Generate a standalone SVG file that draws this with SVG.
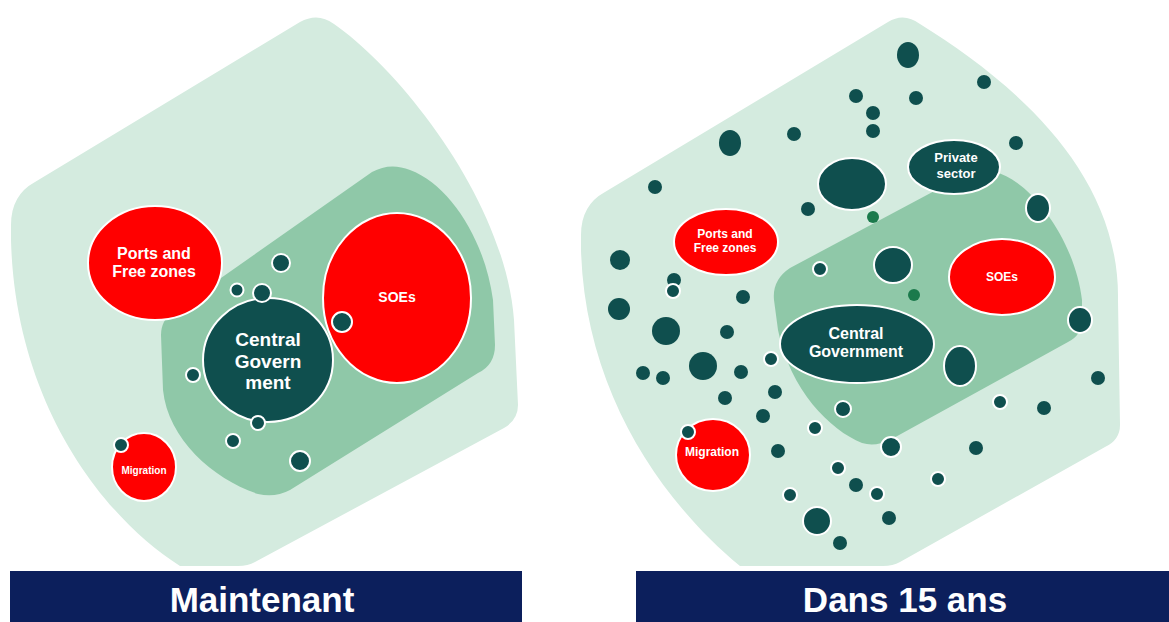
<svg xmlns="http://www.w3.org/2000/svg" width="1169" height="622" viewBox="0 0 1169 622">
<style>
.outer{fill:#d4ebdf}
.inner{fill:#8fc8a8}
.red{fill:#ff0000;stroke:#ffffff;stroke-width:2}
.teal{fill:#0f4f4e}
.ws{stroke:#ffffff;stroke-width:2}
.gd{fill:#1b7a4c}
.lbl{font-family:"Liberation Sans",Arial,sans-serif;font-weight:bold;fill:#ffffff;text-anchor:middle}
.ban{fill:#0c1f5c}
.bt{font-family:"Liberation Sans",Arial,sans-serif;font-weight:bold;fill:#ffffff;text-anchor:middle;font-size:35px}
</style>
<rect width="1169" height="622" fill="#ffffff"/>

<!-- LEFT PANEL -->
<g id="left-panel">
  <path id="left-outer" class="outer" d="M 300,22 Q 318,12 334,24 C 400,70 505,200 514,320 L 518,405 Q 518,420 504,428 L 255,562 Q 248,566 238,566 L 180,566 C 100,515 15,400 11,240 L 11,225 Q 11,195 35,182 Z"/>
  <path id="left-inner" class="inner" d="M 372,172 Q 390,162 410,170 C 450,185 485,240 493,300 L 495,345 Q 495,365 478,373 L 290,490 Q 275,498 258,494 C 215,480 168,440 163,390 L 161,335 Q 161,320 174,311 Z"/>
  <g id="l-ports"><ellipse class="red" cx="155" cy="263" rx="67" ry="57"/>
    <text class="lbl" x="154" y="259" font-size="16">Ports and</text>
    <text class="lbl" x="154" y="277" font-size="16">Free zones</text></g>
  <g id="l-soes"><ellipse class="red" cx="397" cy="298" rx="74" ry="85"/>
    <text class="lbl" x="397" y="302" font-size="14">SOEs</text></g>
  <g id="l-central"><ellipse class="teal ws" cx="268" cy="360" rx="65" ry="62" stroke-width="2.5"/>
    <text class="lbl" x="268" y="346" font-size="19">Central</text>
    <text class="lbl" x="268" y="368" font-size="19">Govern</text>
    <text class="lbl" x="268" y="389" font-size="19">ment</text></g>
  <g id="l-migration"><ellipse class="red" cx="144" cy="467" rx="32" ry="34"/>
    <text class="lbl" x="144" y="474" font-size="10">Migration</text></g>
  <g id="l-dots" class="teal ws">
    <circle cx="281" cy="263" r="9"/>
    <circle cx="237" cy="290" r="6.5"/>
    <circle cx="262" cy="293" r="9"/>
    <circle cx="342" cy="322" r="10"/>
    <circle cx="193" cy="375" r="7"/>
    <circle cx="258" cy="423" r="7"/>
    <circle cx="233" cy="441" r="7"/>
    <circle cx="300" cy="461" r="10"/>
    <circle cx="121" cy="445" r="7"/>
  </g>
</g>

<!-- RIGHT PANEL -->
<g id="right-panel">
  <path id="right-outer" class="outer" d="M 888,22 Q 904,12 920,24 C 1010,80 1120,170 1118,300 L 1120,425 Q 1120,440 1105,447 L 900,562 Q 893,566 883,566 L 740,566 C 660,500 585,390 581,250 L 581,235 Q 581,205 605,192 Z"/>
  <path id="right-inner" class="inner" d="M 955,180 Q 975,168 995,172 C 1030,180 1075,240 1082,300 L 1082,320 Q 1082,335 1068,342 L 890,440 Q 875,447 862,443 C 830,430 790,390 778,330 L 774,300 Q 772,280 790,268 Z"/>
  <g id="r-private"><ellipse class="teal ws" cx="954" cy="167" rx="46" ry="27"/>
    <text class="lbl" x="956" y="162" font-size="13">Private</text>
    <text class="lbl" x="956" y="178" font-size="13">sector</text></g>
  <g id="r-ports"><ellipse class="red" cx="726" cy="242" rx="52" ry="33"/>
    <text class="lbl" x="725" y="238" font-size="12">Ports and</text>
    <text class="lbl" x="725" y="252" font-size="12">Free zones</text></g>
  <g id="r-soes"><ellipse class="red" cx="1002" cy="277" rx="53" ry="38"/>
    <text class="lbl" x="1002" y="281" font-size="12">SOEs</text></g>
  <g id="r-central"><ellipse class="teal ws" cx="857" cy="344" rx="77" ry="39" stroke-width="2.5"/>
    <text class="lbl" x="856" y="339" font-size="16">Central</text>
    <text class="lbl" x="856" y="357" font-size="16">Government</text></g>
  <g id="r-migration"><ellipse class="red" cx="713" cy="455" rx="37" ry="36"/>
    <text class="lbl" x="712" y="456" font-size="12">Migration</text></g>
  <g id="r-dots" class="teal">
    <ellipse cx="908" cy="55" rx="11" ry="13"/>
    <circle cx="984" cy="82" r="7"/>
    <circle cx="856" cy="96" r="7"/>
    <circle cx="916" cy="98" r="7"/>
    <circle cx="873" cy="113" r="7"/>
    <circle cx="873" cy="131" r="7"/>
    <circle cx="1016" cy="143" r="7"/>
    <ellipse cx="730" cy="143" rx="11" ry="13"/>
    <circle cx="794" cy="134" r="7"/>
    <circle cx="655" cy="187" r="7"/>
    <circle cx="808" cy="209" r="7"/>
    <ellipse class="ws" cx="852" cy="184" rx="34" ry="26" stroke-width="1.5"/>
    <ellipse class="ws" cx="1038" cy="208" rx="12" ry="14"/>
    <ellipse class="ws" cx="893" cy="265" rx="19" ry="18"/>
    <circle class="ws" cx="820" cy="269" r="7"/>
    <circle cx="620" cy="260" r="10"/>
    <circle cx="674" cy="280" r="7"/>
    <circle class="ws" cx="673" cy="291" r="7"/>
    <circle cx="743" cy="297" r="7"/>
    <circle cx="619" cy="309" r="11"/>
    <circle cx="666" cy="331" r="14"/>
    <circle cx="727" cy="332" r="7"/>
    <circle cx="703" cy="366" r="14"/>
    <circle class="ws" cx="771" cy="359" r="7"/>
    <circle cx="643" cy="373" r="7"/>
    <circle cx="663" cy="378" r="7"/>
    <circle cx="741" cy="372" r="7"/>
    <circle cx="775" cy="392" r="7"/>
    <ellipse class="ws" cx="1080" cy="320" rx="12" ry="13"/>
    <ellipse class="ws" cx="960" cy="366" rx="16" ry="20"/>
    <circle cx="1098" cy="378" r="7"/>
    <circle cx="725" cy="398" r="7"/>
    <circle cx="763" cy="416" r="7"/>
    <circle class="ws" cx="815" cy="428" r="7"/>
    <circle cx="778" cy="451" r="7"/>
    <circle class="ws" cx="843" cy="409" r="8"/>
    <circle class="ws" cx="688" cy="432" r="7"/>
    <circle class="ws" cx="838" cy="468" r="7"/>
    <circle class="ws" cx="790" cy="495" r="7"/>
    <circle class="ws" cx="817" cy="521" r="14"/>
    <circle cx="840" cy="543" r="7"/>
    <circle class="ws" cx="1000" cy="402" r="7"/>
    <circle cx="1044" cy="408" r="7"/>
    <circle class="ws" cx="891" cy="447" r="10"/>
    <circle cx="976" cy="448" r="7"/>
    <circle cx="856" cy="485" r="7"/>
    <circle class="ws" cx="877" cy="494" r="7"/>
    <circle class="ws" cx="938" cy="479" r="7"/>
    <circle cx="889" cy="518" r="7"/>
  </g>
  <g id="r-green-dots" class="gd">
    <circle cx="873" cy="217" r="6"/>
    <circle cx="914" cy="295" r="6"/>
  </g>
</g>

<!-- BANNERS -->
<g id="banner-left">
  <rect class="ban" x="10" y="571" width="512" height="51"/>
  <text class="bt" x="262" y="612">Maintenant</text>
</g>
<g id="banner-right">
  <rect class="ban" x="636" y="571" width="533" height="51"/>
  <text class="bt" x="905" y="612">Dans 15 ans</text>
</g>
</svg>
